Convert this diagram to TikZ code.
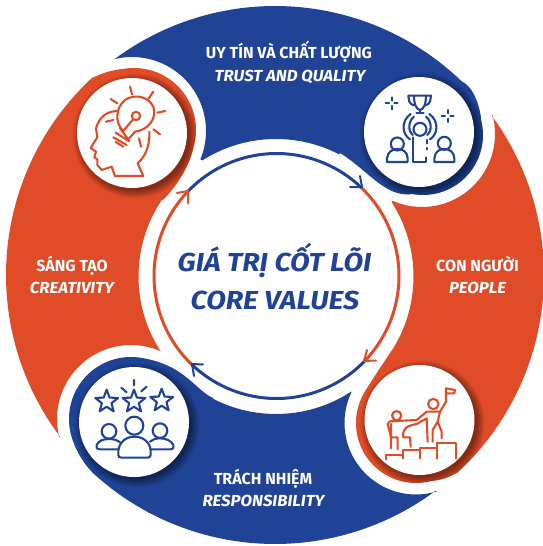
\documentclass[tikz,border=0pt]{standalone}
\usepackage{fontspec}
\setmainfont{Fira Sans}
\newfontfamily\subfont[FakeStretch=1.05]{Fira Sans}
\newfontfamily\corefont[FakeStretch=1.1]{Fira Sans}
\definecolor{cblue}{HTML}{214395}
\definecolor{corange}{HTML}{E04C27}
\newcommand\carc[5]{plot[domain=#4:#5,samples=50] ({#1+#3*cos(\x)},{#2+#3*sin(\x)})}
\newcommand\lcarc[5]{-- plot[domain=#4:#5,samples=50] ({#1+#3*cos(\x)},{#2+#3*sin(\x)})}
\newcommand\bandBlueTop{\carc{275}{275}{269}{-126.8}{-46} .. controls (472,86) and (479,102) .. (481,118) \lcarc{423}{135}{60}{-16}{100} .. controls (385,198) and (368,170) .. (340,153) \lcarc{276}{276.5}{137.5}{-62.6}{-122.4} \lcarc{132}{131}{74}{22.5}{-103.5} -- cycle}
\newcommand\bandOrangeRight{\carc{275}{275}{269}{-36.4}{47.2} .. controls (450,477) and (442,480) .. (431.5,481) \lcarc{416}{423}{60}{75}{210} .. controls (372,380) and (382,365) .. (392,350) \lcarc{276}{276.5}{137.5}{32.4}{-32.7} \lcarc{422}{134}{73}{113.8}{-15.2} -- cycle}
\newcommand\bandBlueBottom{\carc{275}{275}{269}{53.3}{132.6} .. controls (85,465) and (77,453) .. (72.7,440.2) \lcarc{131}{419}{62}{160}{280} .. controls (185,365) and (195,390) .. (213,398) \lcarc{276}{276.5}{137.5}{117.4}{56.8} \lcarc{416}{423}{71.5}{206}{73} -- cycle}
\newcommand\bandOrangeLeft{\carc{275}{275}{269}{143}{227} .. controls (102,73) and (112,70) .. (123,69) \lcarc{134}{130}{62}{260}{375} .. controls (190,165) and (178,185) .. (163,200) \lcarc{276}{276.5}{137.5}{214}{147.2} \lcarc{131}{419}{74}{-65.8}{-194.2} -- cycle}
\tikzset{
  bandtitle/.style={text=white,font=\bfseries\fontsize{16}{18}\selectfont,inner sep=0pt,anchor=base},
  bandsub/.style={text=white,font=\subfont\bfseries\itshape\fontsize{16}{18}\selectfont,inner sep=0pt,anchor=base},
  coretext/.style={text=cblue,font=\corefont\bfseries\itshape\fontsize{26}{30}\selectfont,inner sep=0pt,anchor=base},
  blueline/.style={cblue,line width=3pt},
  orangeline/.style={corange,line width=3pt},
  barb/.style={line width=2pt,line cap=round,line join=miter},
  iconblue/.style={cblue,line width=2.1pt,line cap=round,line join=round},
  iconorange/.style={corange,line width=2.1pt,line cap=round,line join=round},
  whitedisc/.style={fill=white}
}
\newcommand\discshadow[3]{\foreach \rr in {62,61,...,54}{\fill[black,opacity=.055] (#1+#3,#2+#3) circle[radius=\rr pt];}}
\newcommand\sparkle[2]{\draw[iconblue] (#1-18,#2)--(#1-8,#2) (#1+8,#2)--(#1+18,#2) (#1,#2-18)--(#1,#2-8) (#1,#2+8)--(#1,#2+18);}
\newcommand\staricon[3]{\draw[iconblue] plot[samples at={-90,-54,...,234}] ({#1+(mod(round((\x+90)/36),2)==0 ? #3 : 0.42*#3)*cos(\x)},{#2+(mod(round((\x+90)/36),2)==0 ? #3 : 0.42*#3)*sin(\x)}) -- cycle;}
\begin{document}
\begin{tikzpicture}[x=1pt,y=-1pt]
\useasboundingbox (0,0) rectangle (543,546);
\fill[white] (0,0) rectangle (543,546);
% bands
\fill[cblue] \bandBlueTop;
\fill[corange] \bandOrangeRight;
\fill[cblue] \bandBlueBottom;
\fill[corange] \bandOrangeLeft;
% soft shadows clipped to bands
\begin{scope}\clip \bandBlueTop; \discshadow{419}{132}{3} \end{scope}
\begin{scope}\clip \bandOrangeRight; \discshadow{419.5}{420}{3} \end{scope}
\begin{scope}\clip \bandBlueBottom; \discshadow{134}{422}{3} \end{scope}
\begin{scope}\clip \bandOrangeLeft; \discshadow{132}{133}{3} \end{scope}
% white discs
\fill[whitedisc] (419,132) circle[radius=55pt];
\fill[whitedisc] (419.5,420) circle[radius=55pt];
\fill[whitedisc] (134,422) circle[radius=55pt];
\fill[whitedisc] (132,133) circle[radius=55pt];
% ring
\draw[blueline] \carc{276.5}{276}{122.5}{224}{314};
\draw[orangeline] \carc{276.5}{276}{122.5}{-46}{44};
\draw[blueline] \carc{276.5}{276}{122.5}{44}{134};
\draw[orangeline] \carc{276.5}{276}{122.5}{134}{224};
% arrow heads
\coordinate (tipa) at (362,187);
\coordinate (tipb) at (364,361);
\coordinate (tipc) at (192,364);
\coordinate (tipd) at (188,191);
\draw[barb,cblue] (350,187) -- (tipa) -- (360,176);
\draw[barb,corange] (376,360.5) -- (tipb) -- (367,350);
\draw[barb,cblue] (203,364.5) -- (tipc) -- (194,376);
\draw[barb,corange] (177,193) -- (tipd) -- (188,203);
% labels
\node[bandtitle] (t1) at (289,58.5) {UY TÍN VÀ CHẤT LƯỢNG};
\node[bandsub] (t2) at (290,81.5) {TRUST AND QUALITY};
\node[bandtitle] (r1) at (477.5,271.5) {CON NGƯỜI};
\node[bandsub] (r2) at (477.5,293.5) {PEOPLE};
\node[bandtitle] (l1) at (72,271.5) {SÁNG TẠO};
\node[bandsub] (l2) at (72,293.5) {CREATIVITY};
\node[bandtitle] (b1) at (263,484.5) {TRÁCH NHIỆM};
\node[bandsub] (b2) at (263.5,506.5) {RESPONSIBILITY};
\node[coretext] (c1) at (274.5,271) {GIÁ TRỊ CỐT LÕI};
\node[coretext] (c2) at (275,309) {CORE VALUES};
% trophy icon
\begin{scope}[shift={(340pt,-50pt)},x=0.3333pt,y=-0.3333pt]
\draw[iconblue] (205,137)--(273,137)--(270,155)..controls (266,162) and (262,165)..(256,166) (205,137)--(208,155)..controls (212,162) and (216,165)..(222,166);
\draw[iconblue] (222,137)..controls (222,165) and (230,178)..(240,180)..controls (250,178) and (258,165)..(258,137);
\draw[iconblue] (240,180)--(240,190) (229,190)--(251,190);
\draw[iconblue] (212,192)..controls (180,215) and (188,255)..(210,268) (222,200)..controls (203,215) and (205,245)..(218,255);
\draw[iconblue] (268,192)..controls (300,215) and (292,255)..(270,268) (258,200)..controls (277,215) and (275,245)..(262,255);
\draw[iconblue] (240,238) circle[radius=6.5pt];
\draw[iconblue] (220,262)--(220,335)--(258,335)--(258,322) (262,270)--(262,280) (262,294)--(262,298);
\draw[iconblue] (172,282) circle[radius=6.5pt];
\draw[iconblue] (141,336)--(141,325)..controls (143,305) and (158,297)..(172,297)..controls (188,297) and (202,305)..(203,325)--(203,336)--cycle;
\draw[iconblue] (313,280) circle[radius=6.5pt];
\draw[iconblue] (283,336)--(283,325)..controls (285,305) and (298,297)..(313,297)..controls (328,297) and (342,305)..(343,325)--(343,336)--cycle;
\sparkle{155}{160}
\sparkle{323}{198}
\end{scope}
% head icon
\begin{scope}[shift={(60pt,-50pt)},x=0.3333pt,y=-0.3333pt]
\draw[iconorange] (170,183)..controls (140,185) and (118,200)..(108,235)--(112,262)--(92,294)--(108,305)--(103,322)--(112,328)--(112,345)--(125,360)--(155,350)--(165,378)--(250,378)--(233,340)..controls (255,320) and (270,290)..(268,245);
\draw[iconorange] (190,243)..controls (165,220) and (165,175)..(195,150)..controls (225,130) and (265,140)..(280,170)..controls (292,205) and (265,240)..(225,245)--(205,268);
\draw[iconorange] (180,235)--(205,268) (167,248)--(208,274) (160,262)--(200,285) (167,276)--(190,290);
\draw[iconorange] (228,198) circle[radius=4.2pt];
\draw[iconorange] (220,207)--(190,243);
\draw[iconorange] (210,110)--(216,133) (280,125)--(265,147) (152,147)--(172,160) (316,183)--(292,188) (300,253)--(280,238) (237,265)--(243,290) (138,215)--(160,210);
\end{scope}
% stars icon
\begin{scope}[shift={(60pt,-360pt)},x=0.3333pt,y=-0.3333pt]
\staricon{140}{125}{36}
\staricon{222}{125}{36}
\staricon{305}{122}{36}
\draw[iconblue] (222,60)--(222,76) (184,83)--(200,97) (260,80)--(244,94);
\draw[iconblue] (223,197) circle[radius=9pt];
\draw[iconblue] (175,285)--(175,272)..controls (178,245) and (200,230)..(223,230)..controls (248,230) and (270,245)..(272,272)--(272,285)..controls (272,291) and (268,293)..(262,293)--(185,293)..controls (178,293) and (175,291)..(175,285)--cycle;
\draw[iconblue] (147,214) circle[radius=7.3pt];
\draw[iconblue] (175,268)--(118,268)..controls (110,268) and (107,262)..(110,255)..controls (116,242) and (130,237)..(147,237)..controls (160,237) and (172,240)..(180,247);
\draw[iconblue] (300,212) circle[radius=7.3pt];
\draw[iconblue] (272,268)--(330,268)..controls (340,268) and (343,262)..(340,255)..controls (334,242) and (318,235)..(300,235)..controls (288,235) and (278,238)..(270,245);
\end{scope}
% climbers icon
\begin{scope}[shift={(345pt,-350pt)},x=0.3333pt,y=-0.3333pt]
\draw[iconorange] (122,328)--(122,315)--(175,315)--(175,300)--(225,300)--(225,293)--(277,293)--(277,280)--(332,280)--(332,325);
\draw[iconorange] (175,315)--(175,325) (225,300)--(225,325) (277,293)--(277,325);
\draw[iconorange] (155,197) circle[radius=4.6pt];
\draw[iconorange] (158,298)--(158,262)--(138,262)--(128,222)--(135,214)--(215,210)--(245,185)--(285,185)--(303,155)--(303,115)--(330,120)--(328,130)--(303,130);
\draw[iconorange] (138,222)--(138,295) (175,262)--(195,262)--(197,290) (175,262)..controls (172,240) and (180,228)..(215,222)--(245,205)--(248,275);
\draw[iconorange] (265,162) circle[radius=5.2pt];
\draw[iconorange] (285,185)--(278,215)--(290,245)--(290,265) (278,215)--(263,240)--(263,275);
\end{scope}
\end{tikzpicture}
\end{document}
